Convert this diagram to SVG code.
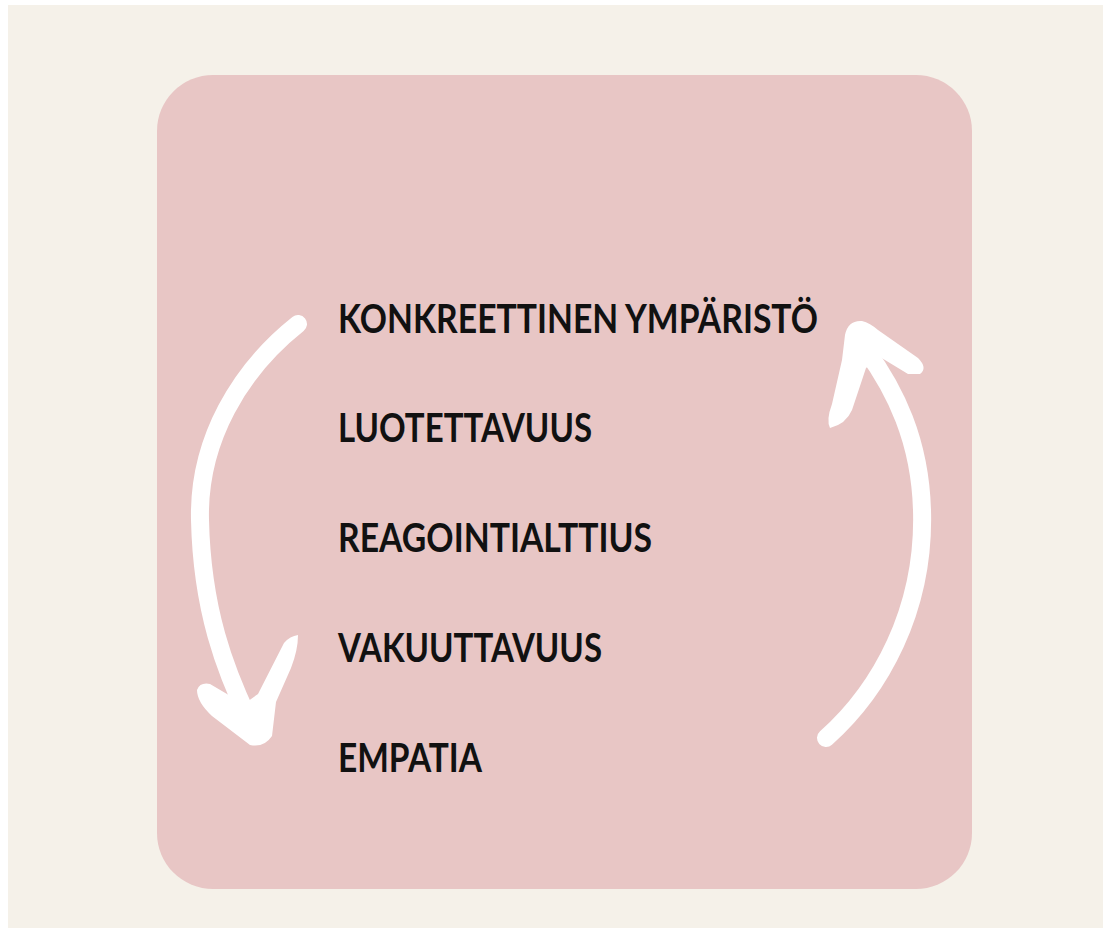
<svg xmlns="http://www.w3.org/2000/svg" width="1103" height="928" viewBox="0 0 1103 928">
<style>
.lbl{font-family:Lato,"Noto Sans","Liberation Sans",sans-serif;font-weight:700;font-size:40px;fill:#111111}
.shaft{fill:none;stroke:#ffffff;stroke-width:18;stroke-linecap:round}
.head{fill:#ffffff}
</style>
<rect x="0" y="0" width="1103" height="928" fill="#ffffff"/>
<rect x="8" y="5" width="1095" height="923" fill="#f5f1e9"/>
<rect id="panel" x="157" y="75" width="815" height="814" rx="56" ry="56" fill="#e8c6c5"/>
<g id="labels">
<g id="n1"><text class="lbl" x="338" y="333" textLength="480" lengthAdjust="spacingAndGlyphs">KONKREETTINEN YMPÄRISTÖ</text></g>
<g id="n2"><text class="lbl" x="338" y="442" textLength="254" lengthAdjust="spacingAndGlyphs">LUOTETTAVUUS</text></g>
<g id="n3"><text class="lbl" x="338" y="552" textLength="314" lengthAdjust="spacingAndGlyphs">REAGOINTIALTTIUS</text></g>
<g id="n4"><text class="lbl" x="338" y="662" textLength="264" lengthAdjust="spacingAndGlyphs">VAKUUTTAVUUS</text></g>
<g id="n5"><text class="lbl" x="338" y="772" textLength="144" lengthAdjust="spacingAndGlyphs">EMPATIA</text></g>
</g>
<g id="connectors">
<g id="arrow-left">
<path class="shaft" d="M298,324 C240,370 198,440 200,520 C202,610 225,670 250,722"/>
<path class="head" d="M197,690 Q200,682 210,684 L244,704 L258,694 L284,643 Q290,636 298,635 Q298,650 291,668 L276,702 L272,736 Q264,748 250,745 L212,716 Q197,702 197,690 Z"/>
</g>
<g id="arrow-right">
<path class="shaft" d="M826,738 C880,690 925,610 922,510 C920,440 895,390 866,350"/>
<path class="head" d="M845,335 Q848,320 862,321 Q870,323 878,330 L918,358 Q928,368 920,374 L908,374 L880,357 L866,368 L852,410 Q846,424 830,428 Q826,420 832,404 L842,360 Z"/>
</g>
</g>
</svg>
